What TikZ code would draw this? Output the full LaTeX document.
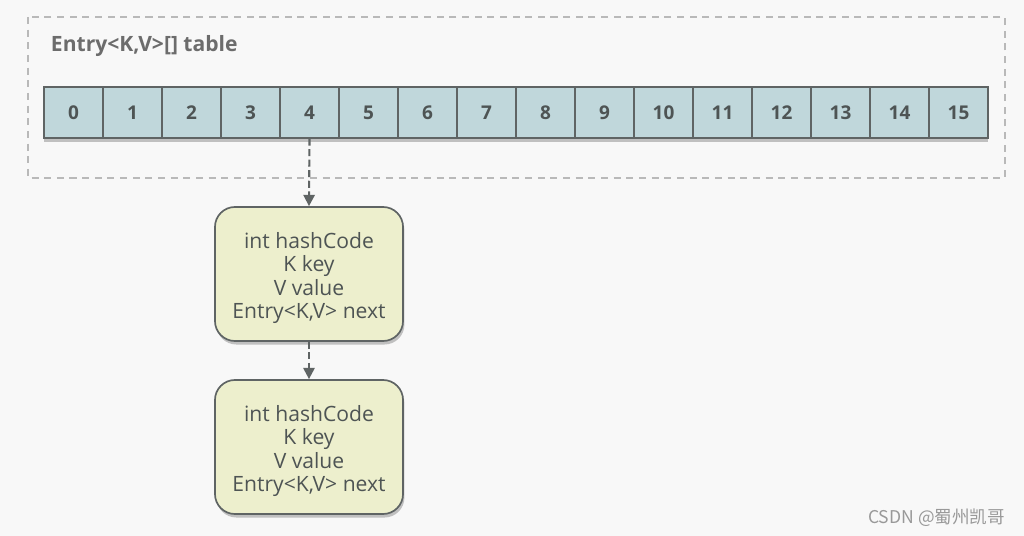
\documentclass[tikz,border=0pt]{standalone}
\usepackage{fontspec}
\setmainfont{Open Sans}
\newfontfamily\cjkfont{Noto Sans CJK SC}
\usepackage{tikz}
\usetikzlibrary{arrows.meta,positioning,shadows}
\definecolor{cellblue}{RGB}{192,215,219}
\definecolor{entryyellow}{RGB}{237,239,205}
\definecolor{linegray}{RGB}{95,100,100}
\definecolor{textgray}{RGB}{78,84,84}
\definecolor{framegray}{RGB}{185,185,185}
\definecolor{bggray}{RGB}{248,248,248}
\newcommand{\entrytext}{\rule{0pt}{17pt}int hashCode\\K key\\V value\\Entry<K,V> next}

\begin{document}
\begin{tikzpicture}[
  x=0.025cm, y=-0.025cm,
  cell/.style={rectangle, draw=linegray, thick, fill=cellblue, minimum width=1.475cm,
    minimum height=1.275cm, inner sep=0pt, text=textgray, font=\fontsize{13.5}{15}\selectfont\bfseries,
    drop shadow={shadow xshift=0pt, shadow yshift=-2.5pt, fill=black!30, opacity=0.8}},
  entry/.style={rectangle, rounded corners=0.5cm, draw=linegray, very thick, fill=entryyellow,
    minimum width=4.7cm, minimum height=3.35cm, align=center, text=textgray,
    font=\fontsize{15}{16.5}\selectfont,
    drop shadow={shadow xshift=1pt, shadow yshift=-2.5pt, fill=black!30, opacity=0.8}},
  frame/.style={draw=framegray, thick, dash pattern=on 5pt off 4pt},
  link/.style={draw=linegray, line width=1.5pt, dash pattern=on 5pt off 2.5pt, -{Triangle[length=8pt,width=8pt]}}
]
\useasboundingbox[fill=bggray] (0,0) rectangle (1024,536);

% outer table frame
\draw[frame] (28,17) rectangle (1005,178);
\node[anchor=west, text=gray!85!black, font=\fontsize{15}{17}\selectfont\bfseries] (title) at (46,46) {Entry<K,V>[] table};

% the 16 buckets
\foreach \i in {0,...,15}
  \node[cell] (c\i) at ({73.5+59*\i},112.5) {\i};

% linked entries
\node[entry] (e1) at (309,274) {\entrytext};
\node[entry] (e2) at (309,447) {\entrytext};

\draw[link] (c4.south) -- (e1.north);
\draw[link] (e1.south) -- (e2.north);

\node[anchor=east, text=gray!80, font=\cjkfont\fontsize{12.5}{14}\selectfont] (mark) at (1010,518) {CSDN @蜀州凯哥};
\end{tikzpicture}
\end{document}
